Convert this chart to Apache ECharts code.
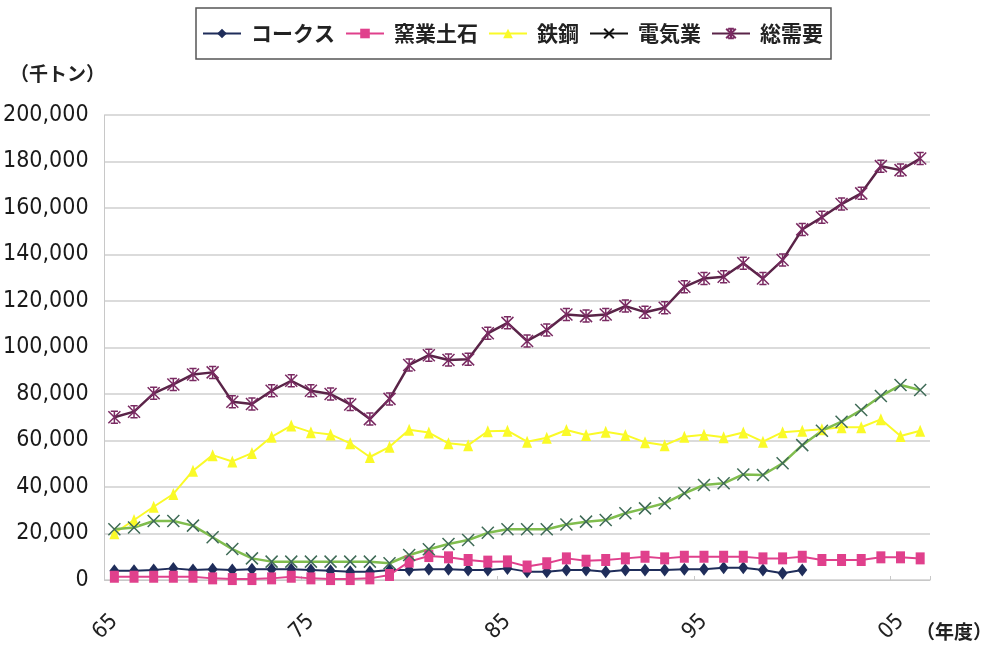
<!DOCTYPE html>
<html>
<head>
<meta charset="utf-8">
<script src="https://cdn.jsdelivr.net/npm/echarts@6/dist/echarts.min.js"></script>
<style>
  html, body { margin: 0; padding: 0; background: #fff; }
  #chart { width: 989px; height: 659px; }
</style>
</head>
<body>
<div id="chart"></div>
<script>
// 年度 (1965〜2006)
const years = ['65','66','67','68','69','70','71','72','73','74','75','76','77','78','79',
  '80','81','82','83','84','85','86','87','88','89','90','91','92','93','94','95','96','97',
  '98','99','00','01','02','03','04','05','06'];

// 千トン
const coke = [4000,4000,4300,5000,4300,4600,4300,4600,4600,4600,
  4300,4000,3600,3600,4300,4300,4600,4600,4300,4300,
  5000,3600,3600,4300,4300,3600,4300,4300,4300,4600,
  4600,5300,5300,4300,2900,4300];
const ceramic = [1400,1400,1400,1400,1400,700,400,400,700,1400,
  700,400,400,700,2150,7900,10300,9750,8600,7900,
  8000,5800,7200,9300,8300,8600,9300,10000,9300,10000,
  10000,10000,10000,9300,9300,10000,8600,8600,8600,9750,
  9750,9300];
const steel = [20100,25800,31500,37000,47000,53700,51000,54600,61600,66400,
  63600,62600,58800,52900,57300,64600,63400,58800,58000,64000,
  64200,59500,61200,64500,62400,63800,62400,59200,58000,61600,
  62500,61400,63400,59500,63600,64200,64800,65700,65700,69100,
  61900,64200];
const electric = [21800,22600,25400,25400,23400,18400,13300,9300,7900,7900,
  7900,7900,7900,7900,7200,10750,13200,15500,17200,20300,
  21800,21800,21800,23900,25100,25800,28700,30800,33000,37300,
  40850,41600,45400,45150,50200,58000,64200,68100,73100,79100,
  83850,81700];
const total = [70000,72400,80300,84100,88400,89300,76700,75700,81400,85700,
  81400,80000,75500,69200,77900,92500,96700,94600,94900,106100,
  110600,102800,107500,114200,113500,114200,117800,115200,117100,126100,
  129700,130400,136200,129700,137600,150800,156000,161700,166300,178000,
  176300,181300];

const seriesNames = ['コークス', '窯業土石', '鉄鋼', '電気業', '総需要'];

const narrow = '"Liberation Sans Narrow", "DejaVu Sans Condensed", "Arial Narrow", sans-serif';
const cjk = '"Noto Sans CJK JP", sans-serif';
const xMark = 'path://M0,0L10,10M10,0L0,10';
const starMark = 'path://M0,0L10,10M10,0L0,10M5,0L5,10M2,0L8,0M2,10L8,10';

const chart = echarts.init(document.getElementById('chart'));

chart.setOption({
  animation: false,
  backgroundColor: '#fff',
  grid: { left: 96, right: 59, top: 115, bottom: 79 },
  legend: {
    left: 196,
    top: 8,
    padding: [15, 8, 15, 6],
    borderColor: '#555',
    borderWidth: 1.5,
    itemWidth: 38,
    itemHeight: 12,
    itemGap: 10,
    textStyle: { fontSize: 21, fontFamily: cjk, fontWeight: 'bold', color: '#222', padding: [0, 0, 0, 5] },
    data: [
      { name: seriesNames[0] },
      { name: seriesNames[1] },
      { name: seriesNames[2] },
      { name: seriesNames[3], lineStyle: { color: '#111' }, itemStyle: { color: '#111', borderColor: '#111' } },
      { name: seriesNames[4] }
    ]
  },
  graphic: [
    { type: 'text', left: 10, top: 64, style: { text: '（千トン）', font: 'bold 19px ' + cjk, fill: '#222' } },
    { type: 'text', left: 916, top: 622, style: { text: '（年度）', font: 'bold 19px ' + cjk, fill: '#222' } }
  ],
  xAxis: {
    type: 'category',
    data: years,
    boundaryGap: true,
    axisLine: { lineStyle: { color: '#c8c8c8' } },
    axisTick: { show: true, inside: true, length: 4, lineStyle: { color: '#c8c8c8' } },
    axisLabel: {
      interval: 9,
      rotate: 45,
      margin: 38,
      fontSize: 22,
      fontFamily: narrow,
      color: '#222'
    }
  },
  yAxis: {
    type: 'value',
    min: 0,
    max: 200000,
    interval: 20000,
    axisLine: { show: true, lineStyle: { color: '#c8c8c8' } },
    axisTick: { show: false },
    splitLine: { lineStyle: { color: '#cfcfcf', width: 1.5 } },
    axisLabel: {
      margin: 16,
      fontSize: 23,
      fontFamily: narrow,
      color: '#1a1a1a',
      formatter: v => v.toLocaleString('en-US')
    }
  },
  series: [
    {
      name: seriesNames[0], type: 'line', data: coke,
      symbol: 'diamond', symbolSize: [10, 13],
      lineStyle: { color: '#1f2d5a', width: 2 },
      itemStyle: { color: '#1f2d5a' }
    },
    {
      name: seriesNames[1], type: 'line', data: ceramic,
      symbol: 'rect', symbolSize: [9, 12],
      lineStyle: { color: '#e0408c', width: 2 },
      itemStyle: { color: '#e0408c' }
    },
    {
      name: seriesNames[2], type: 'line', data: steel,
      symbol: 'triangle', symbolSize: [10, 12],
      lineStyle: { color: '#fafa28', width: 2 },
      itemStyle: { color: '#fafa28' }
    },
    {
      name: seriesNames[3], type: 'line', data: electric,
      symbol: xMark, symbolSize: 12,
      lineStyle: { color: '#80bd4e', width: 2.5 },
      itemStyle: { color: '#3f6b57', borderColor: '#3f6b57', borderWidth: 1.5 }
    },
    {
      name: seriesNames[4], type: 'line', data: total,
      symbol: starMark, symbolSize: 12,
      lineStyle: { color: '#5a2448', width: 2.5 },
      itemStyle: { color: '#7a2a62', borderColor: '#7a2a62', borderWidth: 1.5 }
    }
  ]
});
</script>
</body>
</html>
